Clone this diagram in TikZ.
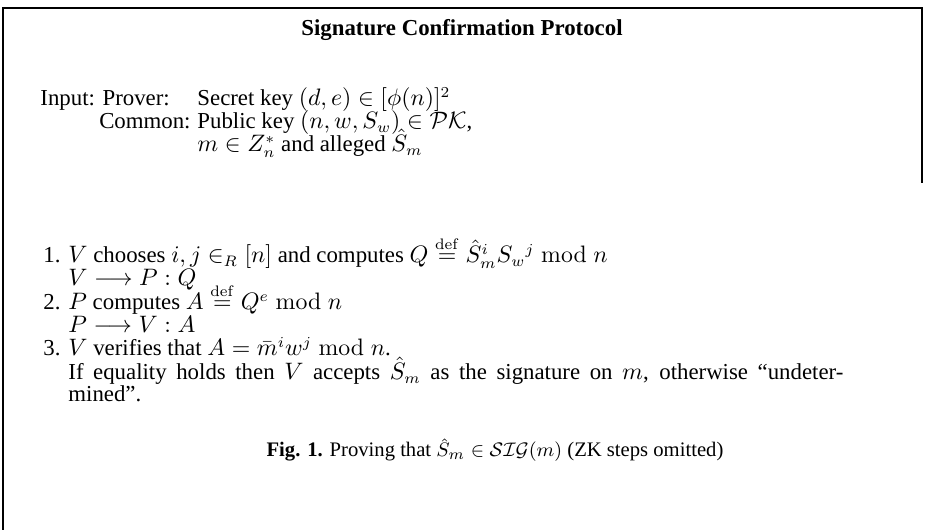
\documentclass[tikz,border=0pt]{standalone}
\usepackage[no-math]{fontspec}
\setmainfont{Liberation Serif}
\usepackage{amsmath}
\begin{document}
\begin{tikzpicture}
		[x=0.46pt,y=-0.46pt,
		txt/.style={anchor=base west,inner sep=0pt,font=\fontsize{10.5}{12}\selectfont},
		num/.style={anchor=base east,inner sep=0pt,font=\fontsize{10.5}{12}\selectfont},
		title/.style={anchor=base,inner sep=0pt,font=\fontsize{10.5}{12}\selectfont\bfseries},
		caption/.style={anchor=base,inner sep=0pt,font=\fontsize{9.5}{11}\selectfont},
		frame/.style={-,line width=0.6pt}]
		\useasboundingbox (0,0) rectangle (925,530);
		% box round the protocol
		\coordinate (tl) at (3,8);
		\coordinate (tr) at (922,8);
		\coordinate (bl) at (3,530);
		\coordinate (br) at (922,183);
		\draw [frame] (bl) -- (tl) -- (tr) -- (br);
		\node at (462,36) (head) [title] {Signature Confirmation Protocol};
		% inputs
		\node at (40,106) (input) [txt] {Input: Prover:};
		\node at (197,106) (secret) [txt] {Secret key $(d,e) \in [\phi(n)]^2$};
		\node at (191,129) (common) [num] {Common:};
		\node at (197,129) (public) [txt] {Public key $(n,w,S_w) \in \mathcal{PK}$,};
		\node at (197,152) (msg) [txt] {$m \in Z_n^*$ and alleged $\hat{S}_m$};
		% steps
		\node at (61,263) (n1) [num] {1.};
		\node at (68,263) (s1) [txt] {$V$ chooses $i,j \in_R [n]$ and computes $Q \stackrel{\mathrm{def}}{=} \hat{S}_m^i S_w{}^j \bmod n$};
		\node at (68,286) (m1) [txt] {$V \longrightarrow P : Q$};
		\node at (61,310) (n2) [num] {2.};
		\node at (68,310) (s2) [txt] {$P$ computes $A \stackrel{\mathrm{def}}{=} Q^e \bmod n$};
		\node at (68,333) (m2) [txt] {$P \longrightarrow V : A$};
		\node at (61,356) (n3) [num] {3.};
		\node at (68,356) (s3) [txt] {$V$ verifies that $A = \bar{m}^i w^j \bmod n$.};
		\node at (68,380) (s3b) [txt] {\makebox[356.5pt][s]{If equality holds then $V$ accepts $\hat{S}_m$ as the signature on $m$, otherwise ``undeter-}};
		\node at (68,402) (s3c) [txt] {mined''.};
		\node at (495,457) (cap) [caption] {\textbf{Fig. 1.} Proving that $\hat{S}_m \in \mathcal{SIG}(m)$ (ZK steps omitted)};
	\end{tikzpicture}
\end{document}
